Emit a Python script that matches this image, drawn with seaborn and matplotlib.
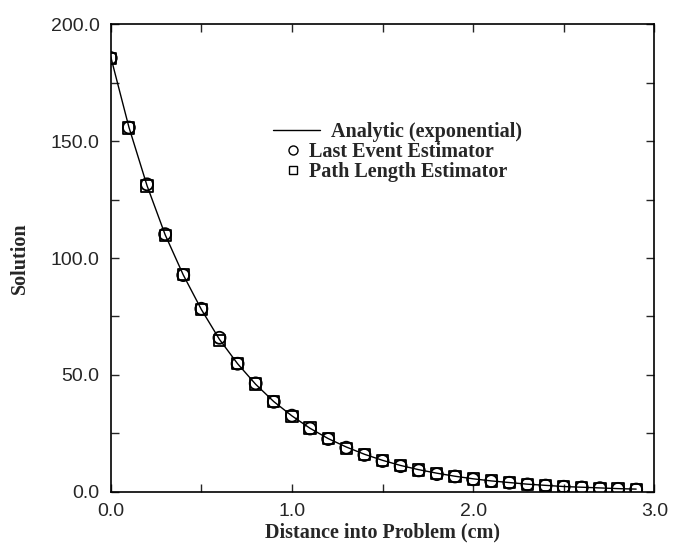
import matplotlib
matplotlib.use("Agg")
import matplotlib.pyplot as plt
import seaborn as sns
import pandas as pd
from matplotlib.lines import Line2D
from matplotlib.ticker import MultipleLocator, FormatStrFormatter

# Data
distance = [0.0, 0.1, 0.2, 0.3, 0.4, 0.5, 0.6, 0.7, 0.8, 0.9,
            1.0, 1.1, 1.2, 1.3, 1.4, 1.5, 1.6, 1.7, 1.8, 1.9,
            2.0, 2.1, 2.2, 2.3, 2.4, 2.5, 2.6, 2.7, 2.8, 2.9]
analytic = [186.0, 156.0, 131.0, 110.0, 92.8, 78.0, 65.2, 54.8, 46.0, 38.6,
            32.5, 27.2, 22.8, 19.2, 16.1, 13.5, 11.3, 9.5, 8.0, 6.7,
            5.6, 4.7, 4.0, 3.3, 2.8, 2.3, 2.0, 1.7, 1.4, 1.2]
last_event = [185.5, 155.8, 131.5, 110.2, 92.7, 78.3, 65.9, 54.8, 46.4, 38.5,
              32.6, 27.1, 22.6, 18.9, 15.8, 13.2, 11.0, 9.2, 7.6, 6.6,
              5.4, 4.6, 3.9, 3.2, 2.7, 2.2, 1.9, 1.6, 1.3, 1.0]
path_length = [185.3, 155.6, 130.8, 109.8, 92.9, 78.1, 64.8, 54.9, 46.1, 38.7,
               32.4, 27.3, 22.9, 18.6, 16.0, 13.4, 11.2, 9.4, 7.8, 6.5,
               5.5, 4.7, 4.0, 3.3, 2.8, 2.3, 1.9, 1.6, 1.4, 1.1]

sns.set_style("ticks")
plt.rcParams['font.family'] = ['Liberation Sans', 'DejaVu Sans']

df = pd.DataFrame({"x": distance, "analytic": analytic,
                   "last": last_event, "path": path_length})

fig = plt.figure(figsize=(6.88, 5.49), dpi=100)
ax = fig.add_axes([0.161, 0.104, 0.790, 0.852])

sns.lineplot(data=df, x="x", y="analytic", ax=ax, color="black", linewidth=1.0)
sns.scatterplot(data=df, x="x", y="last", ax=ax, marker="o", s=75,
                facecolor="none", edgecolor="black", linewidth=1.3)
sns.scatterplot(data=df, x="x", y="path", ax=ax, marker="s", s=65,
                facecolor="none", edgecolor="black", linewidth=1.3)

ax.set_xlim(0, 3.0)
ax.set_ylim(0, 200)
ax.xaxis.set_major_locator(MultipleLocator(1.0))
ax.xaxis.set_minor_locator(MultipleLocator(0.5))
ax.yaxis.set_major_locator(MultipleLocator(50))
ax.yaxis.set_minor_locator(MultipleLocator(25))
ax.xaxis.set_major_formatter(FormatStrFormatter("%.1f"))
ax.yaxis.set_major_formatter(FormatStrFormatter("%.1f"))
ax.tick_params(which="both", direction="in", top=True, right=True,
               length=6, width=1.0, labelsize=14, pad=8)
for s in ax.spines.values():
    s.set_linewidth(1.2)
    s.set_color("black")

serif_bold = dict(family=['Liberation Serif', 'DejaVu Serif'], weight='bold', size=14.5)
ax.set_xlabel("Distance into Problem (cm)", fontdict=serif_bold, labelpad=2)
ax.set_ylabel("Solution", fontdict=serif_bold, labelpad=15)

legprop = dict(family='Liberation Serif', weight='bold', size=14.5)
h1 = [Line2D([], [], color="black", linewidth=1.0)]
leg1 = ax.legend(h1, ["Analytic (exponential)"], loc="center left",
                 bbox_to_anchor=(0.299, 0.769), frameon=False,
                 handlelength=2.3, handletextpad=0.55, borderpad=0,
                 borderaxespad=0, prop=legprop)
ax.add_artist(leg1)
h2 = [Line2D([], [], color="black", marker="o", linestyle="none",
             markerfacecolor="none", markersize=6.5, markeredgewidth=1.0),
      Line2D([], [], color="black", marker="s", linestyle="none",
             markerfacecolor="none", markersize=6, markeredgewidth=1.0)]
ax.legend(h2, ["Last Event Estimator", "Path Length Estimator"],
          loc="upper left", bbox_to_anchor=(0.32, 0.748), frameon=False,
          handlelength=0.8, handletextpad=0.4, borderpad=0, borderaxespad=0,
          labelspacing=0.02, prop=legprop)

fig.savefig("out.png", dpi=100)
